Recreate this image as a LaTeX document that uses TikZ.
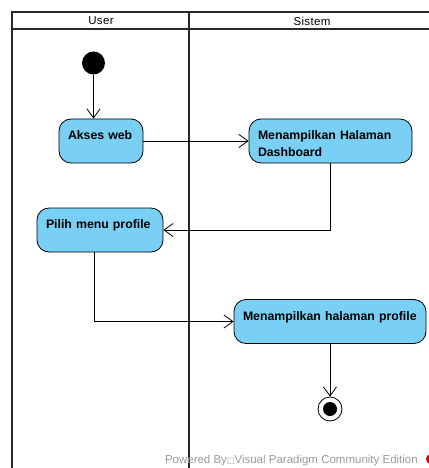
\documentclass[tikz,border=0pt]{standalone}
\usepackage{fontspec}
\setmainfont{Liberation Sans}
\newfontfamily\symfont{DejaVu Sans}
\usetikzlibrary{arrows.meta}
\definecolor{actfill}{RGB}{122,207,244}
\definecolor{lanegray}{RGB}{40,40,40}
\tikzset{
  activity/.style={draw=black, line width=0.8pt, fill=actfill, rounded corners=12pt,
    inner xsep=9pt, minimum height=44pt, align=left,
    font=\bfseries\fontsize{12.3}{17}\selectfont,
    execute at begin node={\rule{0pt}{14pt}}},
  initial/.style={circle, fill=black, inner sep=0pt, minimum size=23pt},
  final/.style={circle, draw=black, line width=0.8pt, inner sep=2.6pt,
    path picture={\fill[black] (path picture bounding box.center) circle (7pt);},
    minimum size=24pt},
  flow/.style={line width=0.8pt, -{Straight Barb[length=9pt,width=13pt,line width=0.8pt]}},
  lane/.style={line width=2pt, lanegray},
  lanehead/.style={font=\fontsize{11.5}{13}\selectfont\addfontfeatures{LetterSpace=3}}
}

\begin{document}
\begin{tikzpicture}[x=1pt,y=-1pt]
  \useasboundingbox (0,0) rectangle (428,468);
  %%%%% LANES %%%%%
  \draw[lane] (12,468) -- (12,12) -- (440,12);
  \draw[lane] (12,29) -- (440,29);
  \draw[lane] (189,12) -- (189,468);
  \node[lanehead] (user) at (101,21) {User};
  \node[lanehead] (sistem) at (312,21) {Sistem};

  %%%%% ACTIVITIES %%%%%
  \node[initial] (start) at (93.5,63) {};
  \node[activity, text width=66pt] (akses) at (101,141) {Akses web\\~};
  \node[activity, text width=145pt] (dash) at (330.5,141) {Menampilkan Halaman\\Dashboard};
  \node[activity, text width=108pt] (pilih) at (100,230) {Pilih menu profile\\~};
  \node[activity, text width=174pt] (profile) at (330,321.5) {Menampilkan halaman profile\\~};
  \node[final] (end) at (330,409) {};

  %%%%% FLOWS %%%%%
  \draw[flow] (start) -- (start |- akses.north);
  \draw[flow] (akses) -- (dash);
  \draw[flow] (dash.south) |- (pilih.east);
  \draw[flow] ([xshift=-6pt]pilih.south) |- (profile.west);
  \draw[flow] (profile) -- (end);

  %%%%% WATERMARK %%%%%
  \node[anchor=base east, text=black!40, font=\fontsize{11.5}{13}\selectfont, inner sep=0pt]
    (mark) at (418,463) {Powered By{\symfont\fontsize{8}{10}\selectfont □}Visual Paradigm Community Edition};
  \fill[red!80!black] (431,459) circle (5pt);
\end{tikzpicture}
\end{document}
